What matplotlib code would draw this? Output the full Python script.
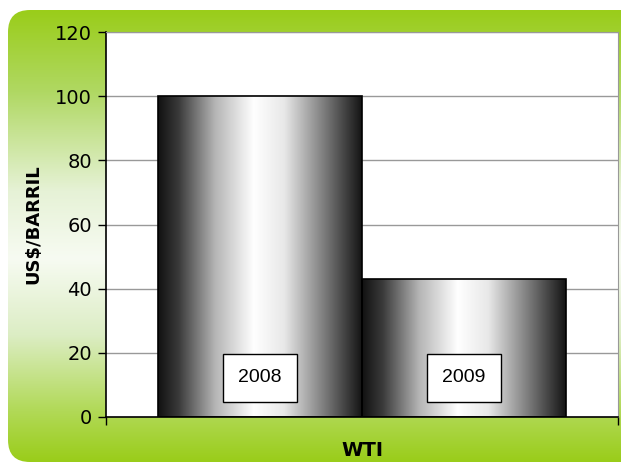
import matplotlib
matplotlib.use('Agg')
import matplotlib.pyplot as plt
import numpy as np
from matplotlib.colors import LinearSegmentedColormap
from matplotlib.patches import FancyBboxPatch

# Data
categories = ['2008', '2009']
values = [100, 43]
yticks = [0, 20, 40, 60, 80, 100, 120]

W, H = 621, 466
fig = plt.figure(figsize=(W / 100, H / 100), dpi=100)
fig.patch.set_facecolor('white')

# Green rounded background panel with vertical gradient
bg = fig.add_axes([0, 0, 1, 1])
bg.set_xlim(0, W)
bg.set_ylim(0, H)
bg.axis('off')
green_cmap = LinearSegmentedColormap.from_list('bg', [
    (0.0, '#9acd1a'), (0.18, '#b0d863'), (0.40, '#e6f2d6'),
    (0.55, '#f7fbf2'), (0.72, '#dcedc4'), (0.88, '#b3da5c'), (1.0, '#9acd1a')])
grad = np.linspace(0, 1, 256).reshape(-1, 1)
panel = FancyBboxPatch((8, 4), W + 40, H - 14, boxstyle='round,pad=0,rounding_size=22',
                       transform=bg.transData, facecolor='none', edgecolor='none')
bg.add_patch(panel)
img = bg.imshow(grad, cmap=green_cmap, aspect='auto', extent=(8, W + 40, 4, H - 10),
                origin='upper', zorder=0)
img.set_clip_path(panel)

# Main chart
ax = fig.add_axes([106 / W, 1 - 417 / H, (618 - 106) / W, (417 - 32) / H])
ax.set_facecolor('white')
x = np.arange(len(categories))
bars = ax.bar(x, values, width=1.0, color='none', edgecolor='black', linewidth=1.2, zorder=3)

bar_cmap = LinearSegmentedColormap.from_list('cyl', [
    (0.0, '#111111'), (0.10, '#3a3a3a'), (0.28, '#b5b5b5'), (0.47, '#ffffff'),
    (0.62, '#e8e8e8'), (0.82, '#7a7a7a'), (1.0, '#151515')])
hgrad = np.linspace(0, 1, 256).reshape(1, -1)
for b in bars:
    x0, w, h = b.get_x(), b.get_width(), b.get_height()
    im = ax.imshow(hgrad, cmap=bar_cmap, aspect='auto', extent=(x0, x0 + w, 0, h), zorder=2)
    im.set_clip_path(b)

for xi, lab in zip(x, categories):
    ax.text(xi, 12.2, lab, ha='center', va='center', fontsize=14, family='Liberation Sans',
            zorder=5, bbox=dict(boxstyle='square,pad=0.8', facecolor='white',
                                edgecolor='black', linewidth=1))

ax.set_xlim(-0.755, 1.755)
ax.set_ylim(0, 120)
ax.set_yticks(yticks)
ax.set_yticklabels([str(t) for t in yticks], fontsize=14)
ax.set_xticks([-0.755, 1.755])
ax.set_xticklabels(['', ''])
ax.tick_params(axis='y', direction='out', length=6, width=1, pad=4)
ax.tick_params(axis='x', direction='out', length=6, width=1)
ax.grid(axis='y', color='#999999', linewidth=1, zorder=1)
ax.set_axisbelow(True)
for side in ['top', 'right']:
    ax.spines[side].set_color('#999999')
for side in ['left', 'bottom']:
    ax.spines[side].set_color('black')
    ax.spines[side].set_linewidth(1.2)

ax.set_ylabel('US$/BARRIL', fontsize=13, fontweight='bold', labelpad=9)
ax.set_xlabel('WTI', fontsize=14, fontweight='bold', labelpad=8)

fig.savefig('out.png', dpi=100)
